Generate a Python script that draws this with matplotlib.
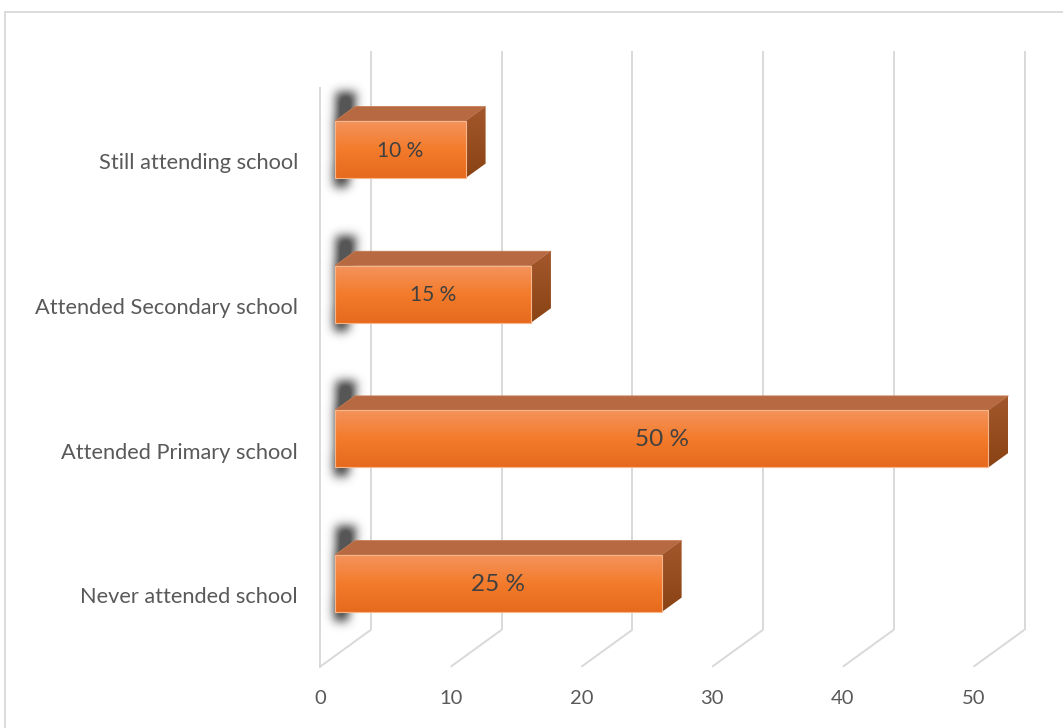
import numpy as np
import matplotlib
matplotlib.use("Agg")
import matplotlib.pyplot as plt
from matplotlib.patches import Polygon
from matplotlib.path import Path
from matplotlib.lines import Line2D

plt.rcParams['font.family'] = ['Lato', 'DejaVu Sans']

# ---------------- data ----------------
categories = ["Never attended school", "Attended Primary school",
              "Attended Secondary school", "Still attending school"]
values = [25, 50, 15, 10]
value_labels = ["25 %", "50 %", "15 %", "10 %"]
label_sizes = [17.5, 17.5, 15, 15]
ticks = [0, 10, 20, 30, 40, 50]

# ---------------- geometry / style ----------------
W, H = 1063, 728
PX = 13.07          # pixels per value unit
CY = 144.67         # pixels per category step
Y0 = 594.4          # pixel row of the first category centre (front plane)

fig = plt.figure(figsize=(W / 100, H / 100), dpi=100)
ax = fig.add_axes([0, 0, 1, 1])
ax.set_xlim(-320 / PX, (W - 320) / PX)
ax.set_ylim((Y0 - H) / CY, Y0 / CY)
ax.axis('off')

DX = 51 / PX        # depth offset in x (data)
DY = 37 / CY        # depth offset in y (data)
floor, top = -0.5, 3.5
d0, d1 = 0.294, 0.684
dd = d1 - d0
h = 0.394
GRID = '#d9d9d9'
TXT = '#595959'

# walls / gridlines
for t in ticks:
    ax.plot([t, t + DX], [floor, floor + DY], color=GRID, lw=1.4, zorder=1,
            solid_capstyle='butt')
    ax.plot([t + DX, t + DX], [floor + DY, top + DY], color=GRID, lw=1.4,
            zorder=1, solid_capstyle='butt')
    ax.text(t, -0.722, str(t), ha='center', va='center', fontsize=14.5,
            color=TXT)
ax.plot([0, 0], [floor, top], color=GRID, lw=1.4, zorder=1)


def gblur(a, s):
    r = int(3 * s)
    k = np.exp(-0.5 * (np.arange(-r, r + 1) / s) ** 2)
    k /= k.sum()
    out = np.zeros_like(a)
    for j in range(a.shape[1]):
        out[:, j] = np.convolve(a[:, j], k, mode='same')
    out2 = np.zeros_like(out)
    for j in range(a.shape[0]):
        out2[j, :] = np.convolve(out[j, :], k, mode='same')
    return out2


def vgrad(stops, n=64):
    pos = [p for p, _ in stops]
    cols = np.array([matplotlib.colors.to_rgb(c) for _, c in stops])
    t = np.linspace(0, 1, n)
    arr = np.stack([np.interp(t, pos, cols[:, j]) for j in range(3)], axis=1)
    return arr[:, None, :]


front_grad = vgrad([(0, '#F3935C'), (0.5, '#F47B2B'), (1, '#E76A1D')])
side_grad = vgrad([(0, '#A3582C'), (1, '#8A4315')])

for i, (cat, v, lab, fs) in enumerate(zip(categories, values, value_labels,
                                          label_sizes)):
    c = i
    xf0 = d0 * DX
    xf1 = v + d0 * DX
    yb = c + d0 * DY - h / 2
    yt = yb + h

    # blurred shadow on the left wall
    sh = [(xf0 - 1 / PX, yb - 0.06), (xf0 + 13 / PX, yb - 0.06),
          (xf0 + 21 / PX, yt + 0.20), (xf0 + 1 / PX, yt + 0.20)]
    sx = [p[0] for p in sh]
    sy = [p[1] for p in sh]
    pad_x, pad_y = 25 / PX, 25 / CY
    ex = (min(sx) - pad_x, max(sx) + pad_x, min(sy) - pad_y, max(sy) + pad_y)
    nx = int(round((ex[1] - ex[0]) * PX))
    ny = int(round((ex[3] - ex[2]) * CY))
    xs = ex[0] + (np.arange(nx) + 0.5) / PX
    ys = ex[2] + (np.arange(ny) + 0.5) / CY
    gx, gy = np.meshgrid(xs, ys)
    m = Path(sh).contains_points(np.c_[gx.ravel(), gy.ravel()]).reshape(ny, nx)
    a = gblur(m.astype(float), 5.0)
    a = np.clip(a / a.max() * 1.15, 0, 1)
    img = np.zeros((ny, nx, 4))
    img[..., :3] = 0.22
    img[..., 3] = a * 0.85
    ax.imshow(img, extent=ex, origin='lower', aspect='auto', zorder=2,
              interpolation='bilinear')

    # top face
    topf = Polygon([(xf0, yt), (xf1, yt), (xf1 + dd * DX, yt + dd * DY),
                    (xf0 + dd * DX, yt + dd * DY)], closed=True,
                   facecolor='#B76A41', edgecolor='#C47B52', lw=0.6, zorder=3)
    ax.add_patch(topf)
    # right face
    rpts = [(xf1, yb), (xf1, yt), (xf1 + dd * DX, yt + dd * DY),
            (xf1 + dd * DX, yb + dd * DY)]
    rface = Polygon(rpts, closed=True, facecolor='none', edgecolor='none',
                    zorder=3)
    ax.add_patch(rface)
    im = ax.imshow(side_grad, extent=(xf1, xf1 + dd * DX, yb, yt + dd * DY),
                   origin='upper', aspect='auto', zorder=3,
                   interpolation='bilinear')
    im.set_clip_path(rface)
    # front face
    ax.imshow(front_grad, extent=(xf0, xf1, yb, yt), origin='upper',
              aspect='auto', zorder=4, interpolation='bilinear')
    ax.add_patch(Polygon([(xf0, yb), (xf1, yb), (xf1, yt), (xf0, yt)],
                         closed=True, facecolor='none', edgecolor='#F7B58C',
                         lw=0.8, zorder=5))

    ax.text((xf0 + xf1) / 2, c + d0 * DY - 1 / CY, lab, ha='center',
            va='center', fontsize=fs, color='#404040', zorder=6)
    ax.text(-22 / PX, c - 3 / CY, cat, ha='right', va='center',
            fontsize=15.7, color=TXT, zorder=6)

ax.set_xlim(-320 / PX, (W - 320) / PX)
ax.set_ylim((Y0 - H) / CY, Y0 / CY)

# outer chart border (top and left visible)
fig.add_artist(Line2D([5 / W, 1], [1 - 12 / H, 1 - 12 / H],
                      transform=fig.transFigure, color='#d9d9d9', lw=1.3))
fig.add_artist(Line2D([5 / W, 5 / W], [0, 1 - 12 / H],
                      transform=fig.transFigure, color='#d9d9d9', lw=1.3))

fig.savefig("out.png", dpi=100, facecolor='white')
